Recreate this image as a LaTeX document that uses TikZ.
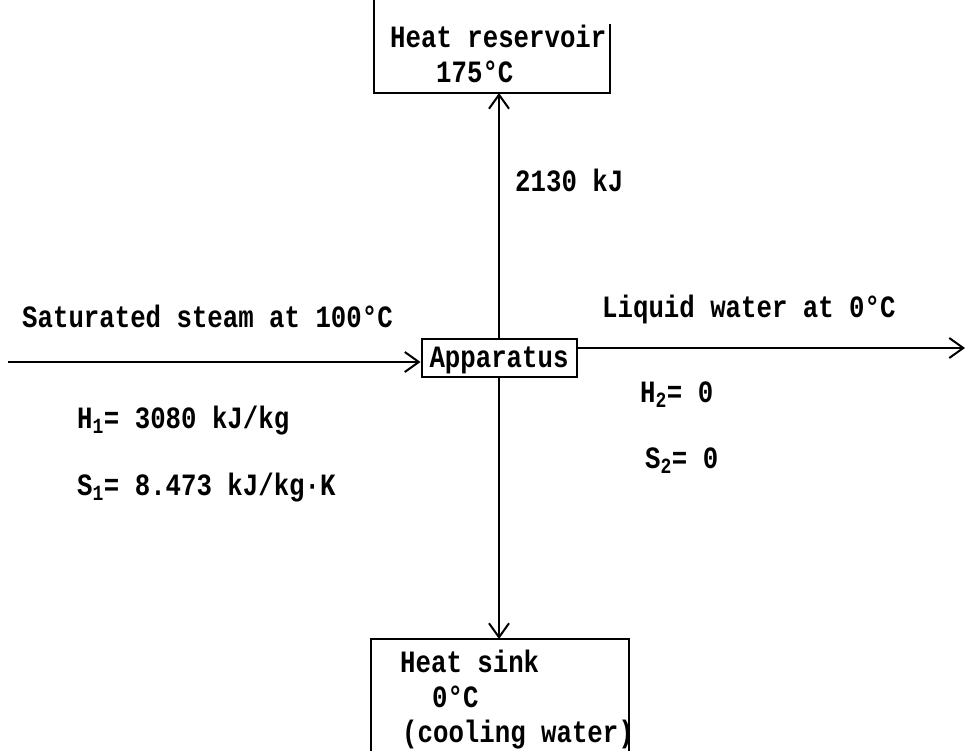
\documentclass[tikz,border=0pt]{standalone}
\usepackage{fontspec}
\setmainfont{Liberation Mono}[FakeStretch=0.83]
\usetikzlibrary{arrows.meta}
\tikzset{lbl/.style={anchor=base west, inner sep=0pt, font=\fontsize{31}{36}\selectfont\bfseries},
	wire/.style={line width=2pt},
	>={Straight Barb[length=14pt,width=20pt,line width=2pt]}}

\begin{document}
\begin{tikzpicture}[x=1pt,y=-1pt]
		\useasboundingbox (0,0) rectangle (968,751);
		
		% boxes
		\node[wire, minimum width=234pt, minimum height=92pt, inner sep=0pt] (res) at (492,46) {};
		\node[wire, draw, minimum width=155pt, minimum height=38pt, inner sep=0pt] (app) at (499,358) {};
		\node[wire, minimum width=256pt, minimum height=111pt, inner sep=0pt] (sink) at (500,695.5) {};
		
		\draw[wire] (res.north west) -- (res.south west) -- (res.south east) -- ([yshift=-25pt]res.north east);
		\draw[wire] (sink.south west) -- (sink.north west) -- (sink.north east) -- (sink.south east);
		
		\node[lbl] (res1) at (390,48) {Heat reservoir};
		\node[lbl] (res2) at (436,83) {175°C};
		\node[lbl, anchor=base] (apptxt) at (499,367) {Apparatus};
		\node[lbl] (sink1) at (400,672) {Heat sink};
		\node[lbl] (sink2) at (432,707) {0°C};
		\node[lbl] (sink3) at (402,742) {(cooling water)};
		
		% streams
		\coordinate (in) at (8,362);
		\coordinate (out) at (965,348);
		\draw[wire,->] (in) -- (in -| app.west);
		\draw[wire,->] (app.east |- out) -- (out);
		\draw[wire,->] (app.north) -- (app.north |- res.south);
		\draw[wire,->] (app.south) -- (app.south |- sink.north);
		
		\node[lbl] (q) at (515,192) {2130 kJ};
		\node[lbl] (steam) at (22,327) {Saturated steam at 100°C};
		\node[lbl] (h1) at (77,428) {H\textsubscript{1}= 3080 kJ/kg};
		\node[lbl] (s1) at (77,495) {S\textsubscript{1}= 8.473 kJ/kg·K};
		\node[lbl] (water) at (602,317) {Liquid water at 0°C};
		\node[lbl] (h2) at (640,402) {H\textsubscript{2}= 0};
		\node[lbl] (s2) at (645,468) {S\textsubscript{2}= 0};
\end{tikzpicture}
\end{document}
